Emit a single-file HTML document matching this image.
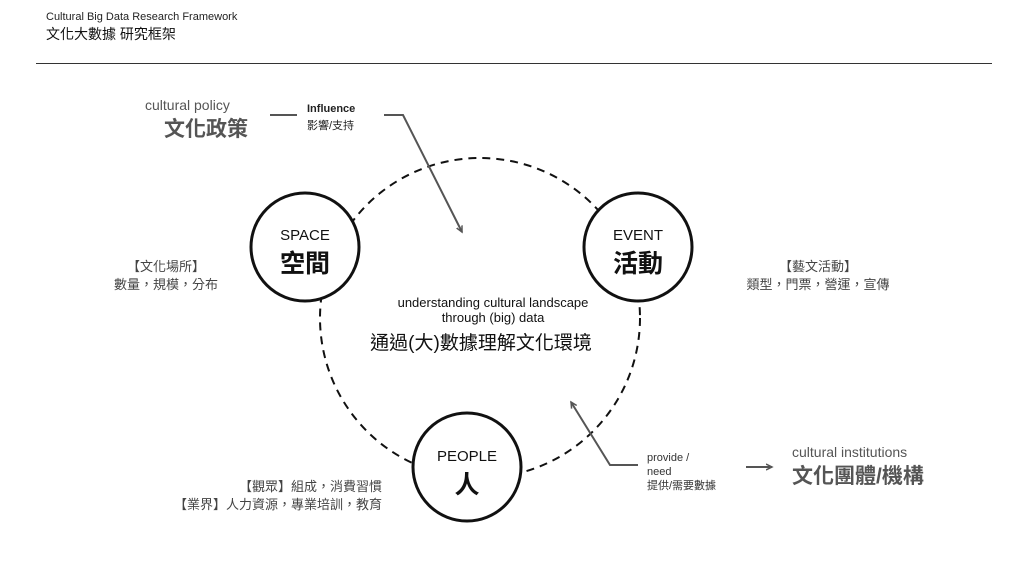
<!DOCTYPE html>
<html><head><meta charset="utf-8"><style>
body{margin:0;width:1024px;height:576px;background:#fff;font-family:"Liberation Sans","Noto Sans CJK TC",sans-serif;position:relative;overflow:hidden}
.t{position:absolute;white-space:nowrap}
</style></head><body>
<div class="t" style="left:46px;top:11px;font-size:11px;color:#222">Cultural Big Data Research Framework</div>
<div class="t" style="left:46px;top:24px;font-size:14px;color:#111">文化大數據 研究框架</div>
<div style="position:absolute;left:36px;top:63px;width:956px;height:1px;background:#333"></div>
<svg width="1024" height="576" style="position:absolute;left:0;top:0">
<defs><marker id="a" markerWidth="8" markerHeight="8" refX="6" refY="4" orient="auto" markerUnits="userSpaceOnUse"><path d="M0,1 L6,4 L0,7" fill="none" stroke="#555" stroke-width="1.5"/></marker></defs>
<circle cx="480" cy="318" r="160" fill="none" stroke="#111" stroke-width="2" stroke-dasharray="8,6"/>
<circle cx="305" cy="247" r="54" fill="#fff" stroke="#111" stroke-width="3"/>
<circle cx="638" cy="247" r="54" fill="#fff" stroke="#111" stroke-width="3"/>
<circle cx="467" cy="467" r="54" fill="#fff" stroke="#111" stroke-width="3"/>
<line x1="270" y1="115" x2="297" y2="115" stroke="#555" stroke-width="2"/>
<polyline points="384,115 403,115 462,232" fill="none" stroke="#555" stroke-width="2" marker-end="url(#a)"/>
<polyline points="638,465 610,465 571,402" fill="none" stroke="#555" stroke-width="2" marker-end="url(#a)"/>
<line x1="746" y1="467" x2="772" y2="467" stroke="#555" stroke-width="2" marker-end="url(#a)"/>
</svg>
<div class="t" style="left:145px;top:97px;font-size:14px;color:#555">cultural policy</div>
<div class="t" style="left:164px;top:113px;font-size:21px;font-weight:bold;color:#555">文化政策</div>
<div class="t" style="left:307px;top:103px;font-size:11px;font-weight:bold;color:#222">Influence</div>
<div class="t" style="left:307px;top:117px;font-size:11px;color:#222">影響/支持</div>
<div class="t" style="left:251px;top:227px;width:108px;text-align:center;font-size:15px;color:#111">SPACE</div>
<div class="t" style="left:251px;top:244px;width:108px;text-align:center;font-size:25px;font-weight:bold;color:#111">空間</div>
<div class="t" style="left:584px;top:227px;width:108px;text-align:center;font-size:15px;color:#111">EVENT</div>
<div class="t" style="left:584px;top:244px;width:108px;text-align:center;font-size:25px;font-weight:bold;color:#111">活動</div>
<div class="t" style="left:413px;top:448px;width:108px;text-align:center;font-size:15px;color:#111">PEOPLE</div>
<div class="t" style="left:413px;top:465px;width:108px;text-align:center;font-size:25px;font-weight:bold;color:#111">人</div>
<div class="t" style="left:368px;top:295px;width:250px;text-align:center;font-size:13px;color:#111;line-height:15px">understanding cultural landscape<br>through (big) data</div>
<div class="t" style="left:336px;top:328px;width:290px;text-align:center;font-size:19px;color:#111">通過(大)數據理解文化環境</div>
<div class="t" style="left:96px;top:258px;width:140px;text-align:center;font-size:13px;color:#444;line-height:18px">【文化場所】<br>數量，規模，分布</div>
<div class="t" style="left:728px;top:258px;width:180px;text-align:center;font-size:13px;color:#444;line-height:18px">【藝文活動】<br>類型，門票，營運，宣傳</div>
<div class="t" style="left:120px;top:478px;width:262px;text-align:right;font-size:13px;color:#444;line-height:18px">【觀眾】組成，消費習慣<br>【業界】人力資源，專業培訓，教育</div>
<div class="t" style="left:647px;top:451px;font-size:11px;color:#333;line-height:14px">provide /<br>need<br>提供/需要數據</div>
<div class="t" style="left:792px;top:444px;font-size:14px;color:#555">cultural institutions</div>
<div class="t" style="left:792px;top:460px;font-size:21px;font-weight:bold;color:#555">文化團體/機構</div>
</body></html>
